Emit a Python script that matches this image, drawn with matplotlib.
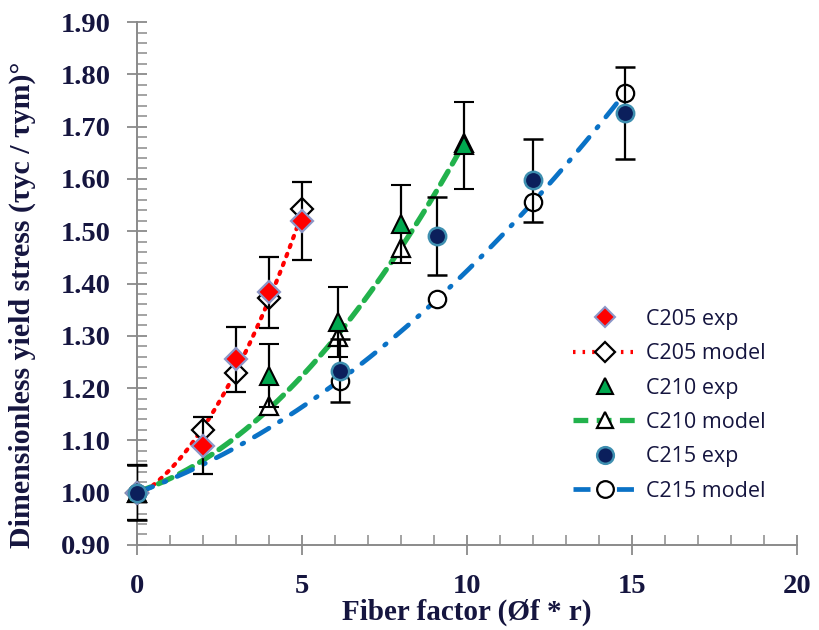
import numpy as np
import matplotlib
matplotlib.use("Agg")
import matplotlib.pyplot as plt
from matplotlib.ticker import MultipleLocator
from matplotlib.lines import Line2D

# ---- data ----
c205_x = [0, 2, 3, 4, 5]
c205_exp = [1.00, 1.09, 1.255, 1.383, 1.520]
c205_err = [0.052, 0.055, 0.062, 0.068, 0.075]
c205_model = [1.00, 1.120, 1.228, 1.372, 1.543]

c210_x = [0, 4, 6.1, 8, 9.9]
c210_exp = [1.00, 1.224, 1.327, 1.514, 1.664]
c210_err = [0.052, 0.061, 0.067, 0.075, 0.083]
c210_model = [1.00, 1.165, 1.298, 1.467, 1.668]

c215_x = [0, 6.15, 9.1, 12, 14.8]
c215_exp = [1.00, 1.233, 1.491, 1.597, 1.726]
c215_err = [0.052, 0.060, 0.075, 0.080, 0.088]
c215_model = [1.00, 1.214, 1.371, 1.555, 1.765]

xticks = [0, 5, 10, 15, 20]
yticks = [0.90, 1.00, 1.10, 1.20, 1.30, 1.40, 1.50, 1.60, 1.70, 1.80, 1.90]
labels = ["C205 exp", "C205 model", "C210 exp", "C210 model", "C215 exp", "C215 model"]

RED = "#FF0000"
GREEN = "#22B24C"
BLUE = "#0A72C6"
NAVY = "#0B1F5C"
TXT = "#15153F"
GRAY = "#8A8A8A"

RED_LS = (0, (0.6, 1.7))
GREEN_LS = (0, (2.8, 1.6))
BLUE_LS = (0, (3.6, 2.6, 0.4, 2.6))

fig = plt.figure(figsize=(8.19, 6.30), dpi=100)
ax = fig.add_axes([0.167, 0.135, 0.806, 0.830])

def trend(x, y, n=200):
    c = np.polyfit(x, y, 2)
    xs = np.linspace(0, x[-1], n)
    return xs, np.polyval(c, xs)

# trendlines
xs, ys = trend(c205_x, c205_exp)
ax.plot(xs, ys, color=RED, lw=3.0, linestyle=RED_LS, dash_capstyle="round", zorder=2)
xs, ys = trend(c210_x, c210_model)
ax.plot(xs, ys, color=GREEN, lw=3.8, linestyle=GREEN_LS, dash_capstyle="round", zorder=2)
xs, ys = trend(c215_x, c215_model)
ax.plot(xs, ys, color=BLUE, lw=3.4, linestyle=BLUE_LS, dash_capstyle="round", zorder=2)

# model markers (hollow)
ax.plot(c205_x, c205_model, linestyle="none", marker="D", ms=11, mfc="white", mec="black", mew=1.6, zorder=3)
ax.plot(c210_x, c210_model, linestyle="none", marker="^", ms=13, mfc="white", mec="black", mew=1.6, zorder=3)
ax.plot(c215_x, c215_model, linestyle="none", marker="o", ms=12.5, mfc="white", mec="black", mew=1.6, zorder=3)

# experimental with error bars
ax.errorbar(c205_x, c205_exp, yerr=c205_err, fmt="D", ms=11, mfc=RED, mec="#8C96C8", mew=1.6,
            ecolor="black", elinewidth=1.6, capsize=7, capthick=1.6, zorder=4)
ax.errorbar(c210_x, c210_exp, yerr=c210_err, fmt="^", ms=13, mfc="#00A84F", mec="black", mew=1.5,
            ecolor="black", elinewidth=1.6, capsize=7, capthick=1.6, zorder=4)
ax.errorbar(c215_x, c215_exp, yerr=c215_err, fmt="o", ms=12.5, mfc=NAVY, mec="#3E8FB0", mew=1.8,
            ecolor="black", elinewidth=1.6, capsize=7, capthick=1.6, zorder=4)

# legend handles
h = [
    Line2D([], [], linestyle="none", marker="D", ms=10, mfc=RED, mec="#8C96C8", mew=1.5),
    Line2D([], [], color=RED, lw=3.0, linestyle=RED_LS, marker="D", ms=10, mfc="white", mec="black", mew=1.6),
    Line2D([], [], linestyle="none", marker="^", ms=12, mfc="#00A84F", mec="black", mew=1.5),
    Line2D([], [], color=GREEN, lw=3.8, linestyle=GREEN_LS, marker="^", ms=12, mfc="white", mec="black", mew=1.6),
    Line2D([], [], linestyle="none", marker="o", ms=12, mfc=NAVY, mec="#3E8FB0", mew=1.8),
    Line2D([], [], color=BLUE, lw=3.4, linestyle=BLUE_LS, marker="o", ms=12, mfc="white", mec="black", mew=1.6),
]
leg = ax.legend(h, labels, loc="center left", bbox_to_anchor=(0.631, 0.267), frameon=False,
                handlelength=3.0, labelspacing=0.62, handletextpad=0.42, numpoints=1,
                prop={"family": "Open Sans", "size": 15.5})
for t in leg.get_texts():
    t.set_color(TXT)

ax.set_xlim(0, 20)
ax.set_ylim(0.90, 1.90)
ax.set_xticks(xticks)
ax.set_yticks(yticks)
ax.set_xticklabels([str(v) for v in xticks])
ax.set_yticklabels([f"{v:.2f}" for v in yticks])
ax.xaxis.set_minor_locator(MultipleLocator(1))
ax.yaxis.set_minor_locator(MultipleLocator(0.02))

for s in ["top", "right"]:
    ax.spines[s].set_visible(False)
for s in ["left", "bottom"]:
    ax.spines[s].set_color(GRAY)
    ax.spines[s].set_linewidth(1.4)

ax.tick_params(axis="both", which="major", direction="inout", length=14, width=1.3, color=GRAY)
ax.tick_params(axis="both", which="minor", direction="in", length=7, width=1.1, color=GRAY)
ax.tick_params(axis="both", which="major", labelsize=20.5, labelcolor=TXT)
ax.tick_params(axis="x", which="major", pad=14)
ax.tick_params(axis="y", which="major", pad=12)
for lab in ax.get_xticklabels() + ax.get_yticklabels():
    lab.set_fontfamily("Liberation Serif")
    lab.set_fontweight("bold")

ax.set_xlabel("Fiber factor (Øf * r)", fontfamily="Liberation Serif", fontweight="bold",
              fontsize=21, color=TXT)
ax.xaxis.set_label_coords(0.5, -0.102)
ax.set_ylabel("Dimensionless yield stress (\u03c4yc / \u03c4ym)\u00b0", fontfamily="Liberation Serif",
              fontweight="bold", fontsize=21.5, color=TXT)
ax.yaxis.set_label_coords(-0.153, 0.459)
for art in ax.lines:
    art.set_clip_on(False)

fig.savefig("out.png", dpi=100)
